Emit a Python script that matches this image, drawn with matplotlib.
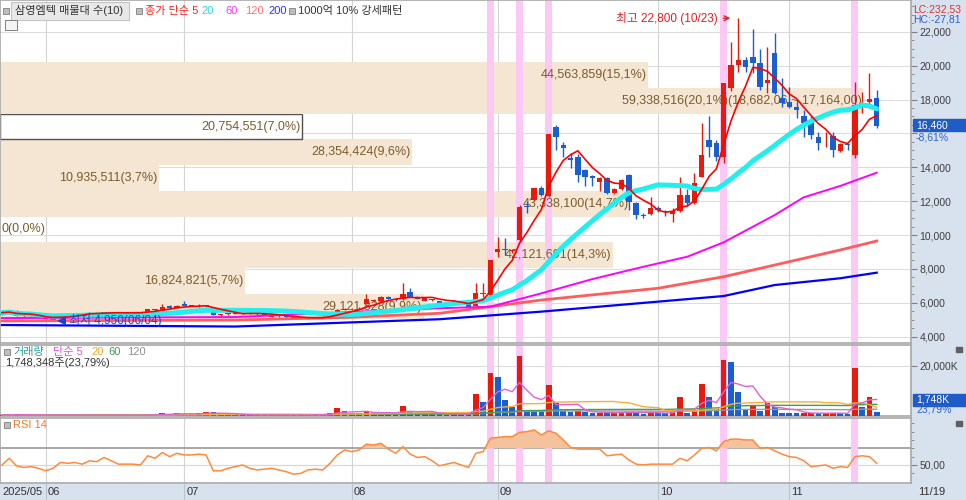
import matplotlib
matplotlib.use('Agg')
import matplotlib.pyplot as plt
from matplotlib.patches import Rectangle
import numpy as np
import pandas as pd


# ---- daily candles, 2025/05/23 .. 2025/11/19 (121 trading days) ----
opens = [5300, 5390, 5540, 5200, 5240, 5150, 5100, 5050, 5150, 5320,
         5350, 5300, 5380, 5420, 5380, 5450, 5400, 5430, 5380, 5400,
         5400, 5560, 5500, 5810, 5700, 5950, 5850, 5800, 5880, 5600,
         5280, 5320, 5350, 5380, 5400, 5350, 5330, 5160, 5250, 5200,
         5140, 5070, 5080, 5100, 5180, 5150, 5380, 5600, 5620, 5680,
         5950, 6100, 6130, 6360, 6200, 6200, 6660, 6350, 6100, 6150,
         6080, 6000, 6000, 6060, 6000, 5820, 6540, 6450, 9000, 9150,
         9050, 9710, 11700, 12070, 12760, 12300, 16400, 15300, 14530, 14620,
         13840, 13490, 13150, 13350, 12460, 12700, 13550, 11910, 11200, 11240,
         11600, 11400, 11240, 11400, 12370, 11880, 13450, 15610, 15420, 14630,
         18660, 20040, 20330, 20530, 20140, 19000, 20730, 18070, 17870, 17580,
         17030, 16790, 15800, 15880, 15850, 14950, 15400, 14730, 17700, 17870,
         18070]
highs = [5480, 5520, 5600, 5300, 5300, 5180, 5120, 5080, 5350, 5380,
         5380, 5400, 5450, 5440, 5480, 5470, 5450, 5440, 5420, 5460,
         5650, 5650, 5930, 5850, 5880, 6120, 5880, 5950, 5900, 5620,
         5350, 5400, 5420, 5430, 5420, 5370, 5350, 5300, 5270, 5220,
         5160, 5120, 5130, 5180, 5200, 5400, 5650, 5680, 5700, 5750,
         6500, 6200, 6400, 6400, 6230, 7190, 6850, 6380, 6350, 6250,
         6100, 6030, 6150, 6080, 6020, 7190, 7170, 8550, 9900, 9800,
         9200, 11800, 12000, 12800, 12900, 15960, 16500, 15510, 14850, 14800,
         13900, 13550, 13400, 13400, 12750, 13300, 13600, 11950, 11300, 12230,
         11700, 11450, 11600, 13450, 12700, 13650, 16600, 17000, 15600, 19000,
         21400, 22800, 20530, 22150, 21000, 21120, 21900, 19250, 18760, 17970,
         17400, 17000, 16100, 16100, 16100, 15450, 15450, 19050, 18460, 19570,
         18560]
lows = [5280, 5360, 5200, 5170, 5200, 5080, 5020, 4950, 5120, 5280,
        5270, 5280, 5350, 5350, 5360, 5380, 5380, 5360, 5350, 5380,
        5380, 5540, 5480, 5650, 5680, 5800, 5800, 5780, 5780, 5280,
        5250, 5300, 5330, 5350, 5330, 5310, 5280, 5140, 5180, 5120,
        5050, 5050, 5060, 5090, 5130, 5140, 5370, 5560, 5600, 5650,
        5920, 6050, 6100, 6200, 6120, 6180, 6330, 6200, 6080, 6120,
        5980, 5950, 5980, 5940, 5720, 5800, 6340, 6400, 8720, 8800,
        8950, 9600, 11300, 12000, 12300, 12250, 15020, 14630, 13940, 13150,
        12900, 12900, 12620, 12400, 12400, 12650, 11480, 10950, 11000, 11200,
        11350, 11100, 10790, 11350, 11700, 11850, 13400, 14630, 14400, 14250,
        18500, 19640, 19640, 19550, 18570, 18370, 18300, 17580, 17500, 16900,
        15800, 15700, 15000, 15220, 14630, 14900, 15000, 14550, 17200, 17500,
        16300]
closes = [5420, 5480, 5230, 5260, 5270, 5100, 5050, 5000, 5320, 5350,
          5300, 5380, 5420, 5380, 5450, 5400, 5430, 5380, 5400, 5450,
          5620, 5620, 5770, 5690, 5820, 5830, 5830, 5840, 5800, 5300,
          5320, 5380, 5400, 5400, 5350, 5330, 5300, 5280, 5200, 5140,
          5080, 5100, 5110, 5160, 5150, 5380, 5600, 5620, 5650, 5700,
          6200, 6150, 6360, 6240, 6150, 6500, 6360, 6250, 6300, 6200,
          6000, 5980, 6060, 5960, 5750, 6560, 6580, 8550, 9200, 9100,
          9100, 11670, 11650, 12760, 12370, 15960, 15800, 15130, 14430, 13550,
          13450, 13350, 13350, 12460, 12720, 13250, 11970, 11180, 11150, 11580,
          11500, 11350, 11440, 12370, 11910, 13050, 14730, 15220, 14630, 19000,
          20040, 20330, 19940, 20140, 18760, 19150, 18370, 17780, 17580, 17400,
          16600, 15900, 15420, 15920, 15020, 15370, 15300, 17680, 17800, 18010,
          16460]

# volume, thousand shares
volumes_k = [400, 500, 600, 350, 300, 400, 350, 450, 400, 300,
             350, 300, 350, 300, 400, 350, 300, 300, 350, 300,
             600, 500, 1300, 700, 1000, 900, 600, 1000, 1600, 1500,
             700, 500, 400, 500, 350, 300, 400, 500, 300, 400,
             350, 500, 400, 600, 500, 1000, 3300, 2000, 1300, 1100,
             1700, 1000, 1700, 1000, 800, 4100, 1700, 1000, 1300, 1000,
             800, 500, 800, 800, 1000, 8600, 5600, 17000, 15600, 6400,
             3700, 23900, 1800, 1600, 1500, 12300, 5200, 2100, 1700, 2000,
             1500, 1200, 1300, 1100, 1300, 1600, 1700, 1300, 900, 1400,
             1200, 1100, 1600, 7400, 1300, 2200, 12600, 7700, 2800, 22300,
             21300, 9400, 2800, 4000, 2000, 5300, 3600, 1300, 1200, 1000,
             1100, 1300, 1000, 1100, 1200, 1000, 900, 19200, 3600, 7348,
             1748]
last_volume = 1748348

# RSI 14
rsi = [50, 58, 49, 47, 48, 46, 43, 46, 53, 52, 53, 51, 55, 54, 59, 55, 51, 51, 51, 50,
       61, 58, 65, 60, 64, 62, 62, 63, 62, 43, 43, 46, 48, 50, 46, 44, 45, 46, 44, 42,
       39, 40, 44, 45, 44, 52, 62, 68, 66, 68, 75, 74, 76, 69, 64, 72, 63, 59, 60, 55,
       49, 51, 53, 50, 47, 64, 66, 82, 83, 84, 84, 89, 90, 92, 86, 91, 88, 80, 71, 69,
       69, 69, 69, 61, 62, 63, 56, 51, 50, 51, 51, 51, 51, 58, 55, 62, 70, 71, 67, 78,
       81, 81, 80, 80, 70, 71, 67, 63, 60, 59, 55, 48, 49, 50, 46, 48, 47, 60, 61, 60,
       52]

# long moving averages (day index, price)
ma60_x = [0, 32, 60, 67, 74, 81, 88, 94, 99, 106, 110, 115, 120]
ma60_v = [5100, 5160, 5680, 5770, 6560, 7400, 8130, 8720, 9570, 11180, 12230, 12900, 13680]
ma120_x = [0, 32, 48, 60, 74, 90, 99, 106, 115, 120]
ma120_v = [4930, 4980, 5150, 5380, 6165, 6860, 7540, 8230, 9120, 9650]
ma200_x = [0, 32, 60, 74, 90, 99, 106, 115, 120]
ma200_v = [4690, 4600, 5030, 5480, 6070, 6400, 7050, 7450, 7780]

# price-by-volume bands (10 bands, bottom to top)
band_low = 5019.52
band_step = 1518.06
band_vols = [29121828, 16824821, 42121691, 0, 43338100, 10935511, 28354424, 20754551, 59338516, 44563859]
band_pcts = ['9,9', '5,7', '14,3', '0,0', '14,7', '3,7', '9,6', '7,0', '20,1', '15,1']
current_band = 7

strong_days = [67, 71, 75, 99, 117]          # 1000억 10% 강세패턴
month_start = [6, 25, 48, 68, 90, 108]
month_labels = ['06', '07', '08', '09', '10', '11']

n = len(closes)
idx = np.arange(n)
s_close = pd.Series(closes)
ma5 = s_close.rolling(5, min_periods=1).mean()
ma20 = s_close.rolling(20, min_periods=1).mean()
vol = pd.Series(volumes_k) * 1000
vma5 = vol.rolling(5, min_periods=1).mean()
vma20 = vol.rolling(20, min_periods=1).mean()
vma60 = vol.rolling(60, min_periods=1).mean()
vma120 = vol.rolling(120, min_periods=1).mean()

RED = '#e8190d'
BLUE = '#1a5fd0'
PINK = '#fcc8f6'

plt.rcParams['font.family'] = ['Liberation Sans', 'DejaVu Sans', 'Noto Sans CJK KR']

W, H = 966, 500
fig = plt.figure(figsize=(W / 100, H / 100), dpi=100)


def box(x0, y0, x1, y1):
    return [x0 / W, 1 - y1 / H, (x1 - x0) / W, (y1 - y0) / H]


def prect(x0, y0, x1, y1, **kw):
    fig.add_artist(Rectangle((x0 / W, 1 - y1 / H), (x1 - x0) / W, (y1 - y0) / H,
                             transform=fig.transFigure, **kw))


def ftext(x, y, s, **kw):
    kw.setdefault('va', 'center')
    fig.text(x / W, 1 - y / H, s, **kw)


# background of the right scale and the date bar
prect(911, 0, 966, 500, color='#d8e1ee', zorder=-1)
prect(0, 484, 966, 500, color='#d8e1ee', zorder=-1)

ax = fig.add_axes(box(0, 0, 911, 343))
axv = fig.add_axes(box(0, 345, 911, 416))
axr = fig.add_axes(box(0, 418, 911, 483))

xmin, xmax = -0.27, 124.7
for a in (ax, axv, axr):
    a.set_xlim(xmin, xmax)
    a.set_xticks([])
    a.yaxis.tick_right()
    for sp in a.spines.values():
        sp.set_color('#a8a8a8')
        sp.set_linewidth(1.2)
    a.tick_params(axis='y', which='both', direction='out', color='#808080',
                  labelcolor='#404040', labelsize=7.5, pad=2)
    a.tick_params(axis='y', which='major', length=4)
    a.tick_params(axis='y', which='minor', length=2)
    for m in month_start:
        a.axvline(m, color='#d4d4d4', lw=0.8, zorder=0.5)
    for d in strong_days:
        a.axvspan(d - 0.48, d + 0.48, color=PINK, lw=0, zorder=1.5)

# ---------------- price panel ----------------
ax.set_ylim(3628, 23876)
ticks = list(range(4000, 22001, 2000))
ax.set_yticks(ticks)
# the 16,000 label sits under the current price box
ax.set_yticklabels(['' if t == 16000 else f'{t:,}' for t in ticks])
ax.set_yticks(list(range(4000, 23501, 500)), minor=True)
for t in ticks:
    ax.axhline(t, color='#dcdcdc', lw=0.8, zorder=0.4)

full_vol = max(band_vols) * 911 / 863
for k, (bv, pc) in enumerate(zip(band_vols, band_pcts)):
    lo = band_low + k * band_step
    right = xmin + bv / full_vol * (xmax - xmin)
    if k == current_band:
        ax.add_patch(Rectangle((xmin, lo), right - xmin, band_step, facecolor='white',
                               edgecolor='#505050', lw=1.0, zorder=1.2))
    else:
        ax.add_patch(Rectangle((xmin, lo), right - xmin, band_step, facecolor='#f5e6d3',
                               edgecolor='none', zorder=1.2))
    label = f'{bv:,}({pc}%)'
    if bv == max(band_vols):
        hi = lo + band_step
        label += f'({hi:,.2f} ~ {lo:,.2f})'.replace('.', ',')
    if bv == 0:
        ax.text(xmin + 0.2, lo + band_step / 2, label, ha='left', va='center',
                fontsize=9, color='#7a5c2c', zorder=2)
    else:
        ax.text(right - 0.2, lo + band_step / 2, label, ha='right', va='center',
                fontsize=9, color='#7a5c2c', zorder=2)

for i in idx:
    c = RED if closes[i] >= opens[i] else BLUE
    ax.vlines(i, lows[i], highs[i], color=c, lw=1.0, zorder=3)
    ax.bar(i, closes[i] - opens[i], bottom=opens[i], width=0.74, color=c, zorder=3.1)

ax.plot(ma200_x, ma200_v, color='#0000ff', lw=1.6, zorder=3.5)
ax.plot(ma120_x, ma120_v, color='#ff5c5c', lw=2.0, zorder=3.5)
ax.plot(ma60_x, ma60_v, color='#ff00ff', lw=1.4, zorder=3.5)
ax.plot(idx, ma20, color='#22eeee', lw=3.6, zorder=3.6, solid_capstyle='round')
ax.plot(idx, ma5, color='#ff0000', lw=1.2, zorder=3.7)

hi_i = int(np.argmax(highs))
ax.annotate(f'최고 {highs[hi_i]:,} (10/23)', xy=(hi_i - 0.7, highs[hi_i]),
            xytext=(hi_i - 2.8, highs[hi_i]), ha='right', va='center', fontsize=8.5,
            color='#e02020', arrowprops=dict(arrowstyle='->', color='#e02020', lw=1.0),
            zorder=5)
lo_i = int(np.argmin(lows))
ax.text(lo_i + 0.6, lows[lo_i] + 30, f'◀ 최저 {lows[lo_i]:,}(06/04)', ha='left', va='center',
        fontsize=8.5, color='#2040d0', zorder=5)

# ---------------- volume panel ----------------
vcol = [RED if i > 0 and volumes_k[i] > volumes_k[i - 1] else BLUE for i in idx]
axv.bar(idx, vol, width=0.78, color=vcol, zorder=3)
axv.plot(idx, vma120, color='#9a9a9a', lw=1.0, zorder=3.5)
axv.plot(idx, vma60, color='#3ca050', lw=1.0, zorder=3.5)
axv.plot(idx, vma20, color='#f5b03a', lw=1.0, zorder=3.5)
axv.plot(idx, vma5, color='#e060d8', lw=1.0, zorder=3.5)
axv.set_ylim(0, 28.2e6)
axv.set_yticks([20e6])
axv.set_yticklabels(['20,000K'])
axv.axhline(20e6, color='#dcdcdc', lw=0.8, zorder=0.4)

# ---------------- RSI panel ----------------
rsi_a = np.array(rsi, dtype=float)
axr.set_ylim(28.4, 106.3)
axr.set_yticks([50])
axr.set_yticklabels(['50,00'])
axr.set_yticks([40, 60, 70, 80, 90, 100], minor=True)
axr.axhline(50, color='#d8d8d8', lw=0.9, zorder=0.4)
axr.axhline(70, color='#a0a0a0', lw=1.3, zorder=0.6)
axr.fill_between(idx, rsi_a, 70, where=rsi_a >= 70, interpolate=True,
                 color='#f5c29e', lw=0, zorder=2)
axr.plot(idx, rsi_a, color='#ff8a3a', lw=1.1, zorder=3)

# ---------------- legends / labels ----------------
LEG = 8
for x, y in [(3, 11), (136, 11), (289, 11), (4, 352), (4, 425)]:
    prect(x, y - 3, x + 6, y + 3, facecolor='#bdbdbd', edgecolor='#808080', lw=0.6, zorder=5)
prect(11, 2, 129, 20, facecolor='#e8e8e8', edgecolor='#c4c4c4', lw=0.8, zorder=4)
ftext(15, 11, '삼영엠텍 매물대 수(10)', fontsize=LEG, color='#333333', zorder=5)
ftext(145, 11, '종가 단순 5', fontsize=LEG, color='#ff2020', zorder=5)
ftext(201, 11, '20', fontsize=LEG, color='#22dddd', zorder=5)
ftext(225, 11, '60', fontsize=LEG, color='#ff30ff', zorder=5)
ftext(245, 11, '120', fontsize=LEG, color='#ff7070', zorder=5)
ftext(268, 11, '200', fontsize=LEG, color='#3030ff', zorder=5)
ftext(298, 11, '1000억 10% 강세패턴', fontsize=LEG, color='#333333', zorder=5)
prect(5, 20, 17, 30, facecolor='#f4f4f4', edgecolor='#808080', lw=0.7, zorder=5)

ftext(13, 352, '거래량', fontsize=LEG, color='#2d9c9c', zorder=5)
ftext(53, 352, '단순 5', fontsize=LEG, color='#e055d5', zorder=5)
ftext(91, 352, '20', fontsize=LEG, color='#f0a830', zorder=5)
ftext(108, 352, '60', fontsize=LEG, color='#3ca050', zorder=5)
ftext(127, 352, '120', fontsize=LEG, color='#909090', zorder=5)
vol_pct = f'{volumes_k[-1] / volumes_k[-2] * 100:.2f}%'.replace('.', ',')
ftext(5, 363, f'{last_volume:,}주({vol_pct})', fontsize=LEG, color='#333333', zorder=5)
ftext(13, 425, 'RSI 14', fontsize=LEG, color='#f07b2a', zorder=5)

ftext(913, 10, 'LC:232,53', fontsize=7.5, color='#e03030', zorder=5)
ftext(913, 19, 'HC:-27,81', fontsize=7.5, color='#3060d0', zorder=5)

chg = (closes[-1] / closes[-2] - 1) * 100
prect(913, 119, 966, 131, color='#1f5cc8', zorder=5)
ftext(916, 125, f'{closes[-1]:,}', fontsize=7.5, color='white', zorder=6)
ftext(916, 137, f'{chg:.2f}%'.replace('.', ','), fontsize=7.5, color='#2a62d0', zorder=6)
prect(913, 394, 966, 406, color='#1f5cc8', zorder=5)
ftext(916, 400, f'{volumes_k[-1]:,}K', fontsize=7.5, color='white', zorder=6)
ftext(916, 410, vol_pct, fontsize=7.5, color='#2a62d0', zorder=6)
prect(956, 347, 962, 352, color='#606060', zorder=5)
prect(956, 421, 962, 426, color='#606060', zorder=5)

# date bar
ftext(2, 492, '2025/05', fontsize=8, color='#333333')
for m, lab in zip(month_start, month_labels):
    xp = (m - xmin) / (xmax - xmin) * 911
    fig.add_artist(plt.Line2D([xp / W, xp / W], [0, 16 / H], transform=fig.transFigure,
                              color='#b8c2d0', lw=0.8))
    ftext(xp + 2, 492, lab, fontsize=8, color='#333333')
ftext(918, 492, '11/19', fontsize=8, color='#333333')

fig.savefig('out.png', dpi=100, facecolor='white')
